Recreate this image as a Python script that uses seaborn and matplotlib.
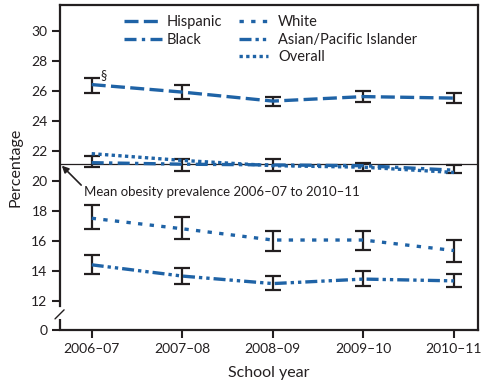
import numpy as np
import pandas as pd
import matplotlib
matplotlib.use('Agg')
import matplotlib.pyplot as plt
from matplotlib.lines import Line2D
import seaborn as sns

# Data
YEARS = ['2006–07', '2007–08', '2008–09', '2009–10', '2010–11']
GROUPS = ['Hispanic', 'Black', 'White', 'Asian/Pacific Islander', 'Overall']

HISPANIC = [26.4, 25.9, 25.3, 25.6, 25.5]
HISPANIC_LO = [25.87, 25.45, 24.98, 25.27, 25.16]
HISPANIC_HI = [26.87, 26.4, 25.6, 25.98, 25.83]

BLACK = [21.2, 21.1, 21.05, 21.0, 20.7]
BLACK_LO = [20.89, 20.67, 20.67, 20.67, 20.5]
BLACK_HI = [21.67, 21.42, 21.45, 21.2, 21.05]

WHITE = [17.5, 16.8, 16.05, 16.05, 15.35]
WHITE_LO = [16.76, 16.09, 15.33, 15.38, 14.6]
WHITE_HI = [18.38, 17.6, 16.65, 16.65, 16.05]

ASIAN = [14.4, 13.65, 13.15, 13.45, 13.33]
ASIAN_LO = [13.78, 13.09, 12.71, 12.98, 12.93]
ASIAN_HI = [15.05, 14.2, 13.65, 13.98, 13.78]

OVERALL = [21.8, 21.35, 21.0, 20.9, 20.55]

MEAN_PREVALENCE = 21.1
Y_TICKS = [10.05, 12, 14, 16, 18, 20, 22, 24, 26, 28, 30]
Y_TICKLABELS = ['0', '12', '14', '16', '18', '20', '22', '24', '26', '28', '30']

BLUE = '#1f63a6'
INK = '#231f20'
DASHES = {
    'Hispanic': (4.2, 1.6),
    'Black': (3.6, 1.6, 1.0, 1.6),
    'White': (1.3, 2.2),
    'Asian/Pacific Islander': (3.6, 1.2, 1.0, 1.2, 1.0, 1.2),
    'Overall': (1.0, 1.0),
}

sns.set_theme(style='white')
plt.rcParams['font.family'] = ['Lato', 'DejaVu Sans']

values = {'Hispanic': HISPANIC, 'Black': BLACK, 'White': WHITE,
          'Asian/Pacific Islander': ASIAN, 'Overall': OVERALL}
bounds = {'Hispanic': (HISPANIC_LO, HISPANIC_HI), 'Black': (BLACK_LO, BLACK_HI),
          'White': (WHITE_LO, WHITE_HI), 'Asian/Pacific Islander': (ASIAN_LO, ASIAN_HI)}

df = pd.DataFrame([
    {'pos': i, 'year': y, 'group': g, 'value': values[g][i]}
    for g in GROUPS for i, y in enumerate(YEARS)
])

fig = plt.figure(figsize=(5.0, 3.83), dpi=100)
ax = fig.add_axes([0.12, 0.138, 0.836, 0.849])

# error bars first so the lines sit on top
for g, (lo, hi) in bounds.items():
    v = np.array(values[g])
    err = np.vstack([v - np.array(lo), np.array(hi) - v])
    ax.errorbar(range(len(YEARS)), v, yerr=err, fmt='none', ecolor=INK,
                elinewidth=1.6, capsize=6, capthick=1.6, zorder=2)

sns.lineplot(data=df, x='pos', y='value', style='group', style_order=GROUPS,
             dashes=DASHES, color=BLUE, linewidth=2.4, legend=False, ax=ax,
             zorder=3)

ax.axhline(MEAN_PREVALENCE, color=INK, lw=0.9, zorder=1)

ax.set_xlim(-0.35, 4.265)
ax.set_ylim(10.05, 31.7)
ax.set_xticks(range(len(YEARS)))
ax.set_xticklabels(YEARS, fontsize=10, color=INK)
ax.set_yticks(Y_TICKS)
ax.set_yticklabels(Y_TICKLABELS, fontsize=10, color=INK)
ax.tick_params(axis='both', direction='out', length=6, width=1.5, color=INK,
               bottom=True, left=True, pad=3)
ax.set_xlabel('School year', fontsize=11.5, color=INK, labelpad=8)
ax.set_ylabel('Percentage', fontsize=11.5, color=INK, labelpad=6)

for side in ['top', 'right', 'bottom', 'left']:
    ax.spines[side].set_color(INK)
    ax.spines[side].set_linewidth(1.6)

# axis break on the y axis
ax.spines['left'].set_bounds(11.65, 31.7)
ax.plot([-0.35, -0.35], [10.05, 10.8], color=INK, lw=1.6, clip_on=False,
        solid_capstyle='butt')
ax.plot([-0.405, -0.305], [10.8, 11.4], color=INK, lw=1.0, clip_on=False)

# annotations
ax.text(0.13, 27.05, '§', fontsize=9, color=INK, ha='center', va='center')
ax.annotate('Mean obesity prevalence 2006–07 to 2010–11',
            xy=(-0.33, 21.0), xytext=(-0.08, 19.25),
            fontsize=9.5, color=INK, va='center', ha='left',
            arrowprops=dict(arrowstyle='-|>', color=INK, lw=1.2,
                            mutation_scale=10, shrinkA=0, shrinkB=0,
                            relpos=(0.0, 0.8)))

# legend in two blocks
def handle(g):
    return Line2D([], [], color=BLUE, lw=2.4, dashes=DASHES[g])

leg1 = ax.legend([handle(g) for g in GROUPS[:2]], GROUPS[:2],
                 loc='upper left', bbox_to_anchor=(0.128, 1.0), frameon=False,
                 fontsize=10.5, handlelength=2.6, handletextpad=0.35,
                 labelspacing=0.25, borderaxespad=0.3)
for t in leg1.get_texts():
    t.set_color(INK)
ax.add_artist(leg1)
leg2 = ax.legend([handle(g) for g in GROUPS[2:]], GROUPS[2:],
                 loc='upper left', bbox_to_anchor=(0.405, 1.0), frameon=False,
                 fontsize=10.5, handlelength=1.95, handletextpad=0.7,
                 labelspacing=0.25, borderaxespad=0.3)
for t in leg2.get_texts():
    t.set_color(INK)

fig.savefig('out.png', dpi=100)
